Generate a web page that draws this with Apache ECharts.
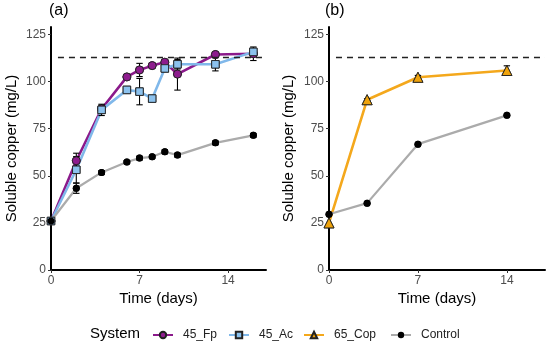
<!DOCTYPE html>
<html>
<head>
<meta charset="utf-8">
<script src="https://cdn.jsdelivr.net/npm/echarts@6/dist/echarts.min.js"></script>
<style>
html,body{margin:0;padding:0;background:#fff;}
#chart{width:550px;height:345px;}
</style>
</head>
<body>
<div id="chart"></div>
<script>
// ---- Data ----
const daysA = [0, 2, 4, 6, 7, 8, 9, 10, 13, 16];
const fpA = [26, 58, 85.5, 102.5, 106.2, 108.5, 110.3, 104, 114.4, 114.8];
const fpErr = [0, 4, 2, 1, 3.5, 1, 1.5, 8.5, 1, 3.6];
const acA = [26, 53.2, 85, 95.6, 94.7, 91, 107, 109.2, 109.2, 115.8];
const acErr = [0, 7, 3, 1, 7, 1, 1.5, 2.5, 3.5, 1.5];
const ctrlA = [26, 43.4, 51.8, 57.3, 59.4, 60.1, 62.8, 61, 67.5, 71.5];
const ctrlAErr = [0, 2.7, 1, 0.8, 1, 0.8, 1, 1, 1, 1];

const daysB = [0, 3, 7, 14];
const copB = [25, 90.4, 102.3, 105.9];
const copErr = [0, 0.5, 1, 2.5];
const ctrlB = [29.6, 35.5, 66.8, 82.1];

const refLevel = 113;
const xTicks = [0, 7, 14];
const yTicks = [0, 25, 50, 75, 100, 125];
const legendNames = ['45_Fp', '45_Ac', '65_Cop', 'Control'];

// ---- Helpers ----
const pairs = (xs, ys) => xs.map((x, i) => [x, ys[i]]);
const errs = (xs, ys, es) => xs.map((x, i) => [x, ys[i] - es[i], ys[i] + es[i]]).filter(d => d[2] - d[1] > 0);

const FONT = '"Liberation Sans", Arial, sans-serif';
const C = {
  fp: '#8B1A8B', fpFill: '#8E1C8E',
  ac: '#80B8EA', acFill: '#8CC2EE',
  cop: '#F4A81C', copFill: '#EFA30C',
  ctrl: '#ABABAB', ctrlFill: '#000000'
};

function errRender(params, api) {
  const x = api.value(0);
  const lo = api.coord([x, api.value(1)]);
  const hi = api.coord([x, api.value(2)]);
  const w = 3.2;
  const st = { stroke: '#000', lineWidth: 1.1 };
  return {
    type: 'group',
    children: [
      { type: 'line', shape: { x1: lo[0], y1: lo[1], x2: hi[0], y2: hi[1] }, style: st },
      { type: 'line', shape: { x1: lo[0] - w, y1: lo[1], x2: lo[0] + w, y2: lo[1] }, style: st },
      { type: 'line', shape: { x1: hi[0] - w, y1: hi[1], x2: hi[0] + w, y2: hi[1] }, style: st }
    ]
  };
}

function xAxis(gi) {
  return {
    gridIndex: gi, type: 'value', min: 0, max: 17, interval: 7,
    axisLine: { show: true, onZero: false, lineStyle: { color: '#000', width: 2 } },
    axisTick: { show: true, length: 3, customValues: xTicks, lineStyle: { color: '#333', width: 1 } },
    axisLabel: { customValues: xTicks, color: '#4D4D4D', fontSize: 12, fontFamily: FONT, margin: 5 },
    splitLine: { show: false }
  };
}
function yAxis(gi) {
  return {
    gridIndex: gi, type: 'value', min: 0, max: 129, interval: 25,
    axisLine: { show: true, onZero: false, lineStyle: { color: '#000', width: 2 } },
    axisTick: { show: true, length: 3, customValues: yTicks, lineStyle: { color: '#333', width: 1 } },
    axisLabel: { customValues: yTicks, color: '#4D4D4D', fontSize: 12, fontFamily: FONT, margin: 5 },
    splitLine: { show: false }
  };
}

function lineSeries(name, gi, xs, ys, color, fill, symbol, size, width, extra) {
  return Object.assign({
    name: name, type: 'line', xAxisIndex: gi, yAxisIndex: gi,
    data: pairs(xs, ys), symbol: symbol, symbolSize: size, showSymbol: true,
    lineStyle: { color: color, width: width },
    itemStyle: { color: fill, borderColor: '#222', borderWidth: fill === '#000000' ? 0 : 0.9 },
    z: 2, silent: true
  }, extra || {});
}
function pointSeries(name, gi, xs, ys, fill, symbol, size) {
  return {
    name: name, type: 'scatter', xAxisIndex: gi, yAxisIndex: gi,
    data: pairs(xs, ys), symbol: symbol, symbolSize: size,
    itemStyle: { color: fill, borderColor: '#222', borderWidth: fill === '#000000' ? 0 : 0.9, opacity: 1 },
    z: 4, silent: true
  };
}
function errSeries(name, gi, data) {
  return { name: name, type: 'custom', xAxisIndex: gi, yAxisIndex: gi, data: data, renderItem: errRender, z: 3, silent: true };
}
function dashLine() {
  return {
    silent: true, symbol: 'none', label: { show: false },
    lineStyle: { type: [6, 5], color: '#222', width: 1.3 },
    data: [[{ coord: [0.55, refLevel] }, { coord: [17, refLevel] }]]
  };
}

const legendLefts = [152, 228, 303, 390];

const option = {
  animation: false,
  backgroundColor: '#fff',
  textStyle: { fontFamily: FONT },
  grid: [
    { left: 51, top: 27, width: 215, height: 243 },
    { left: 329, top: 27, width: 216, height: 243 }
  ],
  xAxis: [xAxis(0), xAxis(1)],
  yAxis: [yAxis(0), yAxis(1)],
  title: [
    { text: '(a)', left: 49, top: 3, padding: 0, textStyle: { fontSize: 16, fontWeight: 'normal', color: '#000', fontFamily: FONT } },
    { text: '(b)', left: 325, top: 3, padding: 0, textStyle: { fontSize: 16, fontWeight: 'normal', color: '#000', fontFamily: FONT } },
    { text: 'System', left: 90, top: 326, padding: 0, textStyle: { fontSize: 15, fontWeight: 'normal', color: '#000', fontFamily: FONT } }
  ],
  graphic: [
    { type: 'text', x: 12, y: 148.5, rotation: Math.PI / 2, style: { text: 'Soluble copper (mg/L)', fill: '#000', font: '15px ' + FONT, align: 'center', verticalAlign: 'middle' } },
    { type: 'text', x: 289, y: 148.5, rotation: Math.PI / 2, style: { text: 'Soluble copper (mg/L)', fill: '#000', font: '15px ' + FONT, align: 'center', verticalAlign: 'middle' } },
    { type: 'text', x: 158.5, y: 298.5, style: { text: 'Time (days)', fill: '#000', font: '15px ' + FONT, align: 'center', verticalAlign: 'middle' } },
    { type: 'text', x: 437, y: 298.5, style: { text: 'Time (days)', fill: '#000', font: '15px ' + FONT, align: 'center', verticalAlign: 'middle' } }
  ],
  legend: legendNames.map((n, i) => ({
    data: [n], left: legendLefts[i], top: 329, padding: 0,
    itemWidth: 20, itemHeight: 8, itemGap: 0,
    textStyle: { fontSize: 12, color: '#222', fontFamily: FONT, padding: [0, 0, 0, 5] },
    selectedMode: false
  })),
  series: [
    lineSeries('45_Fp', 0, daysA, fpA, C.fp, C.fpFill, 'circle', 8, 2.6, { markLine: dashLine() }),
    lineSeries('45_Ac', 0, daysA, acA, C.ac, C.acFill, 'rect', 7.5, 2.6),
    lineSeries('Control', 0, daysA, ctrlA, C.ctrl, C.ctrlFill, 'circle', 7, 2.2),
    errSeries('errA_fp', 0, errs(daysA, fpA, fpErr)),
    errSeries('errA_ac', 0, errs(daysA, acA, acErr)),
    errSeries('errA_ctrl', 0, errs(daysA, ctrlA, ctrlAErr)),
    pointSeries('ptsA_fp', 0, daysA, fpA, C.fpFill, 'circle', 8),
    pointSeries('ptsA_ac', 0, daysA, acA, C.acFill, 'rect', 7.5),
    pointSeries('ptsA_ctrl', 0, daysA, ctrlA, C.ctrlFill, 'circle', 7),

    lineSeries('65_Cop', 1, daysB, copB, C.cop, C.copFill, 'triangle', 10, 2.6, { markLine: dashLine() }),
    lineSeries('Control', 1, daysB, ctrlB, C.ctrl, C.ctrlFill, 'circle', 7, 2.2),
    errSeries('errB_cop', 1, errs(daysB, copB, copErr)),
    pointSeries('ptsB_ctrl', 1, daysB, ctrlB, C.ctrlFill, 'circle', 7),
    pointSeries('ptsB_cop', 1, daysB, copB, C.copFill, 'triangle', 10)
  ]
};

const chart = echarts.init(document.getElementById('chart'), null, { renderer: 'canvas' });
chart.setOption(option);
</script>
</body>
</html>
